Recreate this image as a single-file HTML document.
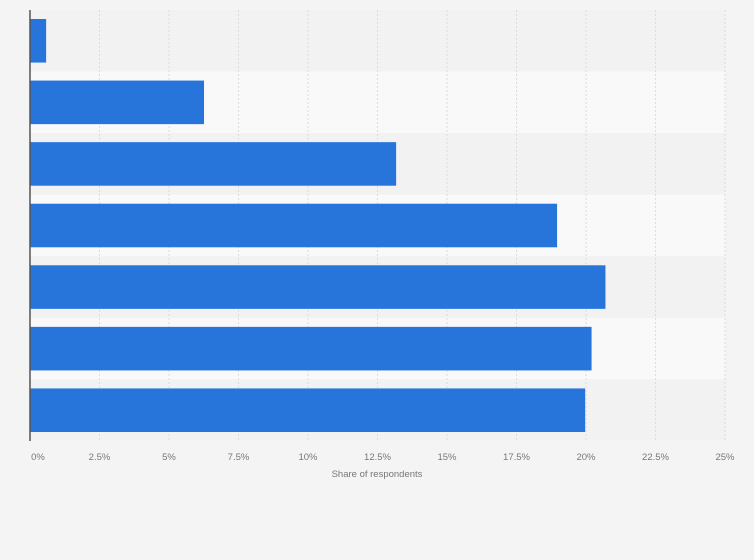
<!DOCTYPE html>
<html><head><meta charset="utf-8"><style>
body{margin:0;background:#f4f4f4;font-family:"Liberation Sans",sans-serif}
svg{display:block}
</style></head><body>
<svg width="754" height="560" id="c">
<rect width="754" height="560" fill="#f4f4f4"/>
</svg>
<script>
const categories=["Row 1","Row 2","Row 3","Row 4","Row 5","Row 6","Row 7"];
const values=[0.58,6.26,13.17,18.96,20.7,20.2,19.97];
const ticks=[0,2.5,5,7.5,10,12.5,15,17.5,20,22.5,25];
const tickLabels=["0%","2.5%","5%","7.5%","10%","12.5%","15%","17.5%","20%","22.5%","25%"];
const svgEl=document.getElementById('c');const NS='http://www.w3.org/2000/svg';
const x0=30,x1=725,plotTop=10,plotBottom=441,xmax=25;
const X=v=>x0+(v/xmax)*(x1-x0);
const band=(plotBottom-plotTop)/categories.length;
const Y=i=>plotTop+i*band;
function mk(t,a){const e=document.createElementNS(NS,t);for(const k in a)e.setAttribute(k,a[k]);svgEl.appendChild(e);return e;}
categories.forEach((c,i)=>{const r=mk('rect',{x:x0,y:Y(i),width:x1-x0,height:band,fill:i%2?'#f9f9f9':'#f2f2f2'});

});
ticks.forEach((t,i)=>{if(i>0){const l=mk('line',{x1:X(t),x2:X(t),y1:plotTop,y2:plotBottom,stroke:'#dcdcdc','stroke-dasharray':'2,2'});

}
const tx=mk('text',{x:X(t)+(i==0?8:0),y:460,'text-anchor':'middle','font-size':'9.5',fill:'#777'});tx.textContent=tickLabels[i];

});
values.forEach((v,i)=>{const b=mk('rect',{x:x0,y:Y(i)+9,width:X(v)-x0,height:band-18,fill:'#2775db'});

});
const ax=mk('line',{x1:x0,x2:x0,y1:plotTop,y2:plotBottom,stroke:'#555','stroke-width':1.5});


const tt=mk('text',{x:377,y:477,'text-anchor':'middle','font-size':'9.5',fill:'#777'});tt.textContent='Share of respondents';


</script>
</body></html>
